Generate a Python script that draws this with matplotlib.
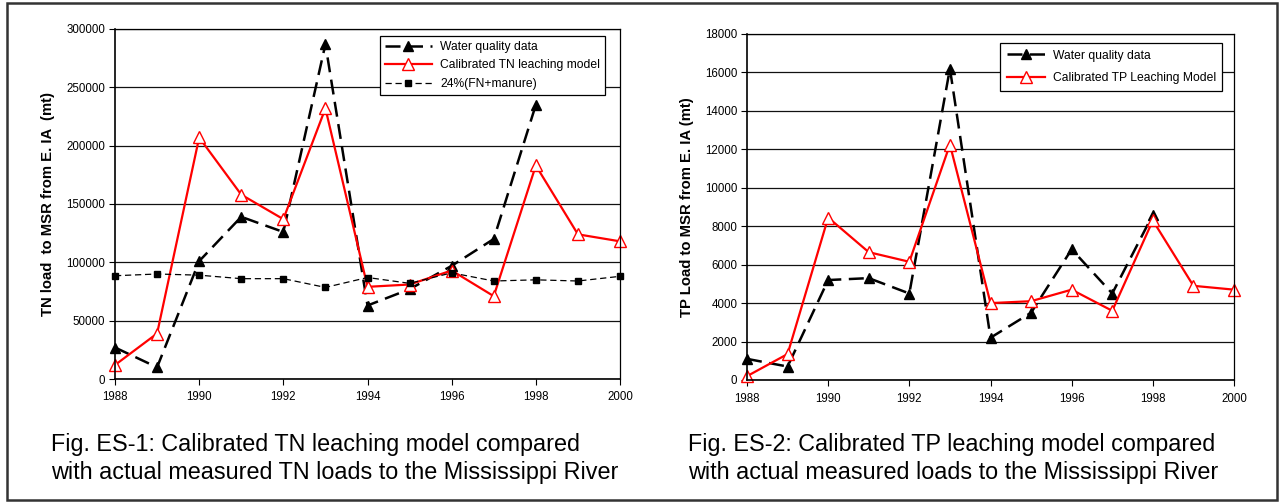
import matplotlib
matplotlib.use("Agg")
import matplotlib.pyplot as plt
from matplotlib.patches import Rectangle

plt.rcParams['font.family'] = ['Liberation Sans', 'DejaVu Sans']

years = [1988, 1989, 1990, 1991, 1992, 1993, 1994, 1995, 1996, 1997, 1998, 1999, 2000]
wq_years = years[:11]

tn_water = [27000, 10000, 101000, 139000, 126000, 287000, 63000, 77000, 97000, 120000, 235000]
tn_model = [12000, 39000, 207000, 158000, 137000, 232000, 79000, 81000, 93000, 71000, 183000, 124000, 118000]
tn_24pct = [88500, 90000, 89000, 86000, 86000, 78500, 87000, 82000, 91000, 84000, 85000, 84000, 88000]

tp_water = [1100, 700, 5200, 5300, 4500, 16200, 2200, 3500, 6800, 4500, 8600]
tp_model = [200, 1350, 8450, 6650, 6150, 12250, 4000, 4100, 4700, 3600, 8300, 4900, 4700]

tn_yticks = [0, 50000, 100000, 150000, 200000, 250000, 300000]
tp_yticks = [0, 2000, 4000, 6000, 8000, 10000, 12000, 14000, 16000, 18000]
xticks = [1988, 1990, 1992, 1994, 1996, 1998, 2000]

W, H = 1280, 503
fig = plt.figure(figsize=(W / 100, H / 100), dpi=100)

# outer border
fig.patches.append(Rectangle((7 / W, 3 / H), (1277 - 7) / W, (500 - 3) / H,
                             transform=fig.transFigure, fill=False,
                             edgecolor='#333333', linewidth=1.8))


def make_ax(x0, x1, y0, y1):
    return fig.add_axes([x0 / W, 1 - y1 / H, (x1 - x0) / W, (y1 - y0) / H])


def style(ax, yticks, ylabel):
    ax.set_xlim(1988, 2000)
    ax.set_ylim(yticks[0], yticks[-1])
    ax.set_yticks(yticks)
    ax.set_xticks(xticks)
    ax.set_yticklabels([str(v) for v in yticks])
    ax.set_xticklabels([str(v) for v in xticks])
    ax.tick_params(axis='both', labelsize=8.3, length=4, width=0.8, direction='out', pad=3)
    ax.tick_params(axis='x', pad=5)
    ax.grid(axis='y', color='#111111', linewidth=0.9)
    ax.set_axisbelow(True)
    for s in ax.spines.values():
        s.set_color('black')
        s.set_linewidth(0.9)
    ax.spines['left'].set_linewidth(1.2)
    ax.spines['bottom'].set_linewidth(1.2)
    ax.set_ylabel(ylabel, fontsize=10.7, fontweight='bold', labelpad=8)


leg_kw = dict(loc='upper left', fontsize=8.7, frameon=True, fancybox=False, edgecolor='black',
              framealpha=1, borderaxespad=0)

# Left chart
ax1 = make_ax(115, 620, 29, 379)
l1, = ax1.plot(wq_years, tn_water, color='black', linestyle=(0, (6, 3)), linewidth=1.8,
               marker='^', markersize=7, markerfacecolor='black', markeredgecolor='black',
               label='Water quality data', clip_on=False)
l2, = ax1.plot(years, tn_model, color='red', linewidth=1.6, marker='^', markersize=9,
               markerfacecolor='white', markeredgecolor='red', markeredgewidth=1.0,
               label='Calibrated TN leaching model', clip_on=False)
l3, = ax1.plot(years, tn_24pct, color='black', linestyle=(0, (5, 3)), linewidth=0.9,
               marker='s', markersize=4.5, markerfacecolor='black', markeredgecolor='black',
               label='24%(FN+manure)', clip_on=False)
style(ax1, tn_yticks, 'TN load  to MSR from E. IA  (mt)')
leg1 = ax1.legend(handles=[l1, l2, l3], bbox_to_anchor=((380 - 115) / 505, 1 - (36 - 29) / 350),
                  borderpad=0.4, labelspacing=0.55, handlelength=3.9, handletextpad=0.7, **leg_kw)
leg1.get_frame().set_linewidth(0.9)

# Right chart
ax2 = make_ax(747, 1234, 34, 380)
r1, = ax2.plot(wq_years, tp_water, color='black', linestyle=(0, (6, 3)), linewidth=1.8,
               marker='^', markersize=7, markerfacecolor='black', markeredgecolor='black',
               label='Water quality data', clip_on=False)
r2, = ax2.plot(years, tp_model, color='red', linewidth=1.6, marker='^', markersize=9,
               markerfacecolor='white', markeredgecolor='red', markeredgewidth=1.0,
               label='Calibrated TP Leaching Model', clip_on=False)
style(ax2, tp_yticks, 'TP Load to MSR from E. IA (mt)')
leg2 = ax2.legend(handles=[r1, r2], bbox_to_anchor=((1000 - 747) / 487, 1 - (43 - 34) / 346),
                  borderpad=0.55, labelspacing=0.85, handlelength=3.2, handletextpad=0.6, **leg_kw)
leg2.get_frame().set_linewidth(0.9)

# Captions
cap = 16.8
fig.text(51 / W, 1 - 445 / H, 'Fig. ES-1: Calibrated TN leaching model compared', fontsize=cap,
         va='center', ha='left')
fig.text(51 / W, 1 - 473 / H, 'with actual measured TN loads to the Mississippi River', fontsize=cap,
         va='center', ha='left')
fig.text(688 / W, 1 - 445 / H, 'Fig. ES-2: Calibrated TP leaching model compared', fontsize=cap,
         va='center', ha='left')
fig.text(688 / W, 1 - 473 / H, 'with actual measured loads to the Mississippi River', fontsize=cap,
         va='center', ha='left')

fig.savefig('out.png', dpi=100)
